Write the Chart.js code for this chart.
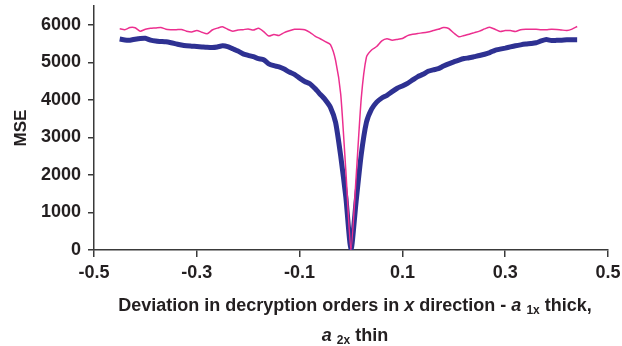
<!DOCTYPE html>
<html>
<head>
<meta charset="utf-8">
<script src="https://cdn.jsdelivr.net/npm/chart.js@4/dist/chart.umd.min.js"></script>
<style>
  html, body { margin: 0; padding: 0; background: #fff; }
  #wrap { position: relative; width: 622px; height: 346px; }
  #xTitle {
    position: absolute; left: 64px; width: 582px; top: 290px;
    text-align: center; font: bold 18px 'Liberation Sans', Arial, sans-serif;
    color: #231f20; line-height: 30px;
  }
  #xTitle sub { font-size: 12px; vertical-align: -3px; line-height: 0; }
</style>
</head>
<body>
<div id="wrap">
  <canvas id="mseChart" width="622" height="346"></canvas>
  <div id="xTitle">Deviation in decryption orders in <i>x</i> direction - <i>a</i> <sub>1x</sub> thick,<br><i>a</i> <sub>2x</sub> thin</div>
</div>
<script>
// deviation values (x axis)
const deviation = [-0.45, -0.44, -0.43, -0.42, -0.41, -0.40, -0.39, -0.38, -0.37, -0.36,
  -0.35, -0.34, -0.33, -0.32, -0.31, -0.30, -0.29, -0.28, -0.27, -0.26,
  -0.25, -0.24, -0.23, -0.22, -0.21, -0.20, -0.19, -0.18, -0.17, -0.16,
  -0.15, -0.14, -0.13, -0.12, -0.11, -0.10, -0.09, -0.08, -0.07, -0.06,
  -0.05, -0.04, -0.03, -0.02, -0.01, 0, 0.01, 0.02, 0.03, 0.04,
  0.05, 0.06, 0.07, 0.08, 0.09, 0.10, 0.11, 0.12, 0.13, 0.14,
  0.15, 0.16, 0.17, 0.18, 0.19, 0.20, 0.21, 0.22, 0.23, 0.24,
  0.25, 0.26, 0.27, 0.28, 0.29, 0.30, 0.31, 0.32, 0.33, 0.34,
  0.35, 0.36, 0.37, 0.38, 0.39, 0.40, 0.41, 0.42, 0.43, 0.44];

// a1x - thick line
const mseThick = [5620, 5595, 5590, 5615, 5635, 5640, 5590, 5565, 5555, 5545,
  5520, 5490, 5460, 5440, 5430, 5420, 5410, 5400, 5395, 5410,
  5440, 5420, 5360, 5300, 5225, 5185, 5150, 5100, 5070, 4960,
  4910, 4880, 4820, 4740, 4680, 4580, 4490, 4430, 4300, 4150,
  4000, 3800, 3400, 2500, 1400, 0, 1300, 2550, 3400, 3750,
  3940, 4050, 4120, 4220, 4310, 4370, 4440, 4530, 4620, 4680,
  4760, 4800, 4830, 4900, 4960, 5010, 5060, 5100, 5120, 5150,
  5180, 5215, 5260, 5320, 5350, 5378, 5410, 5440, 5465, 5485,
  5500, 5520, 5570, 5605, 5580, 5585, 5590, 5598, 5600, 5600];

// a2x - thin line
const mseThin = [5893, 5870, 5925, 5920, 5830, 5880, 5905, 5915, 5930, 5880,
  5870, 5867, 5876, 5830, 5810, 5850, 5800, 5760, 5860, 5910,
  5945, 5880, 5830, 5860, 5870, 5890, 5860, 5905, 5820, 5700,
  5740, 5715, 5790, 5840, 5880, 5880, 5867, 5800, 5700, 5627,
  5550, 5470, 5050, 4150, 2100, 0, 1950, 4050, 5140, 5330,
  5420, 5570, 5625, 5590, 5610, 5635, 5710, 5745, 5770, 5785,
  5810, 5845, 5880, 5925, 5900, 5780, 5680, 5715, 5750, 5790,
  5830, 5890, 5935, 5880, 5822, 5845, 5845, 5822, 5870, 5880,
  5880, 5880, 5867, 5870, 5882, 5876, 5860, 5849, 5885, 5955];

const xTicks = [-0.5, -0.3, -0.1, 0.1, 0.3, 0.5];
const yTicks = [0, 1000, 2000, 3000, 4000, 5000, 6000];

const tickFont = { family: "'Liberation Sans', Arial, sans-serif", size: 18, weight: 'bold' };
const titleFont = { family: "'Liberation Sans', Arial, sans-serif", size: 17, weight: 'bold' };
const axisColor = '#3a3a3a';

function pts(ys) {
    return deviation.map((x, i) => ({ x: x, y: ys[i] }));
}

new Chart(document.getElementById('mseChart'), {
    type: 'line',
    data: {
        datasets: [
            { label: 'a1x', data: pts(mseThick), borderColor: '#2e3192', borderWidth: 5,
              pointRadius: 0, fill: false, tension: 0.2, order: 2 },
            { label: 'a2x', data: pts(mseThin), borderColor: '#ec2f8f', borderWidth: 1.5,
              pointRadius: 0, fill: false, tension: 0.2, order: 1 }
        ]
    },
    options: {
        responsive: false,
        animation: false,
        layout: { padding: { left: 0, right: 14, top: 6, bottom: 0 } },
        plugins: { legend: { display: false }, tooltip: { enabled: false } },
        scales: {
            x: {
                type: 'linear', min: -0.5, max: 0.5,
                afterFit: s => { s.height = 96; s.paddingLeft = 0; s.paddingRight = 0; },
                afterBuildTicks: s => { s.ticks = xTicks.map(v => ({ value: v })); },
                grid: { drawOnChartArea: false, drawTicks: true, tickLength: 7, color: axisColor, lineWidth: 1.5 },
                border: { color: axisColor, width: 1.5 },
                ticks: { font: tickFont, color: '#231f20', padding: 5, maxRotation: 0,
                         callback: v => v.toFixed(1) }
            },
            y: {
                min: 0, max: 6500,
                afterFit: s => { s.width = 94; s.paddingTop = 0; s.paddingBottom = 0; },
                afterBuildTicks: s => { s.ticks = yTicks.map(v => ({ value: v })); },
                grid: { drawOnChartArea: false, drawTicks: true, tickLength: 6, color: axisColor, lineWidth: 1.5 },
                border: { color: axisColor, width: 1.5 },
                ticks: { font: tickFont, color: '#231f20', padding: 7, callback: v => String(v) },
                title: { display: true, text: 'MSE', font: titleFont, color: '#231f20', padding: { top: 11, bottom: 0 } }
            }
        }
    }
});
</script>
</body>
</html>
